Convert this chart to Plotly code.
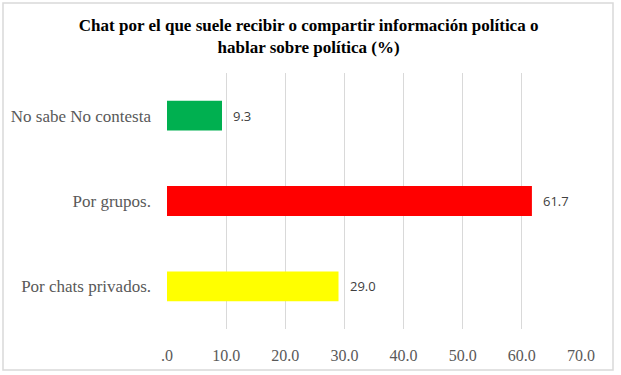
import plotly.graph_objects as go

categories = ["No sabe No contesta", "Por grupos.", "Por chats privados."]
values = [9.3, 61.7, 29.0]
colors = ["#00b050", "#ff0000", "#ffff00"]
tick_vals = [0, 10, 20, 30, 40, 50, 60, 70]
tick_text = [".0", "10.0", "20.0", "30.0", "40.0", "50.0", "60.0", "70.0"]
title_text = "<b>Chat por el que suele recibir o compartir información política o<br>hablar sobre política (%)</b>"

W, H = 621, 375
L, R, T, B = 167, 40, 73, 46
pw, ph = W - L - R, H - T - B
SERIF = "Liberation Serif, Times New Roman, Times, serif"

fig = go.Figure()
fig.add_trace(go.Bar(
    y=categories, x=values, orientation="h",
    marker=dict(color=colors, line=dict(width=0)),
    width=0.35, hoverinfo="skip",
))

for c, v in zip(categories, values):
    fig.add_annotation(x=v, y=c, xref="x", yref="y", text=f"{v:.1f}",
                       showarrow=False, xanchor="left", xshift=9,
                       font=dict(family="Open Sans, sans-serif", size=13, color="#404040"))

def px_x(p):
    return (p - L) / pw

def px_y(p):
    return (H - B - p) / ph

fig.add_shape(type="rect", xref="paper", yref="paper",
              x0=px_x(3), x1=px_x(613), y0=px_y(370), y1=px_y(3),
              line=dict(color="#d9d9d9", width=1.5), fillcolor="rgba(0,0,0,0)", layer="below")

fig.update_layout(
    width=W, height=H,
    font=dict(family=SERIF),
    margin=dict(l=L, r=R, t=T, b=B, pad=0, autoexpand=False),
    paper_bgcolor="white", plot_bgcolor="white",
    showlegend=False,
    title=dict(text=title_text, x=0.497, xanchor="center", y=1 - 31 / H, yanchor="middle",
               yref="container",
               font=dict(family=SERIF, size=17, color="#000000")),
    xaxis=dict(range=[0, 70], tickvals=tick_vals, ticktext=tick_text, automargin=False,
               showgrid=True, gridcolor="#d9d9d9", gridwidth=1,
               zeroline=False, showline=False, ticks="", ticklabelstandoff=15,
               tickfont=dict(family=SERIF, size=16, color="#595959")),
    yaxis=dict(categoryorder="array", categoryarray=categories, autorange="reversed",
               automargin=False,
               showgrid=False, zeroline=False, showline=False, ticks="",
               ticklabelstandoff=15,
               tickfont=dict(family=SERIF, size=17, color="#595959")),
    bargap=0.65,
)

fig.write_html("out.html", post_script="document.body.style.margin='0';",
               config={"displayModeBar": False})
